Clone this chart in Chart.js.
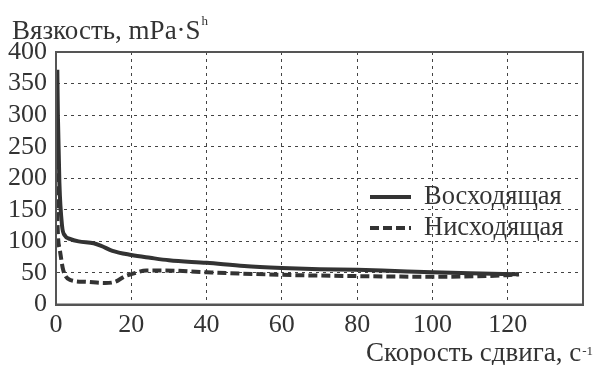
<!DOCTYPE html>
<html><head><meta charset="utf-8">
<script src="https://cdn.jsdelivr.net/npm/chart.js@4.4.1/dist/chart.umd.min.js"></script>
<style>html,body{margin:0;padding:0;background:#fff;}canvas{display:block;}</style>
</head><body>
<canvas id="c" width="595" height="365"></canvas>
<script>
// Data
const upX = [0.35, 0.5, 0.9, 1.6, 2.4, 3.7, 6, 10, 12, 15, 20, 25, 30, 40, 50, 60, 70, 80, 90, 100, 110, 123];
const upY = [372, 300, 193, 125, 109, 104, 100, 97, 93, 85, 78.5, 74, 70, 66, 61, 58, 56, 55, 53, 51, 49.5, 48];
const downX = [0.15, 0.35, 1.0, 1.9, 3.7, 7.7, 13, 15.7, 18.4, 20, 24, 28, 40, 60, 80, 100, 120, 123];
const downY = [270, 139, 87, 55, 39, 36, 34, 36, 45, 48, 54, 54, 51, 47, 45, 44, 46.5, 48];
const seriesNames = ['Восходящая', 'Нисходящая'];
const xTicks = [0, 20, 40, 60, 80, 100, 120];
const yTicks = [0, 50, 100, 150, 200, 250, 300, 350, 400];
const yTitle = ['Вязкость, mPa·S', 'h'];
const xTitle = ['Скорость сдвига, с', '-1'];

const FONT = '"Liberation Serif", "Times New Roman", serif';
const INK = '#333';

const toPts = (xs, ys) => xs.map((x, i) => ({x, y: ys[i]}));

const extras = {
  id: 'extras',
  afterDraw(chart) {
    const ctx = chart.ctx, a = chart.chartArea;
    ctx.save();
    ctx.strokeStyle = '#555'; ctx.lineWidth = 2; ctx.setLineDash([]);
    ctx.strokeRect(a.left, a.top, a.right - a.left, a.bottom - a.top);
    ctx.fillStyle = INK; ctx.textBaseline = 'alphabetic';
    ctx.font = '27px ' + FONT; ctx.textAlign = 'left';
    ctx.fillText(yTitle[0], 12, 39);
    let w = ctx.measureText(yTitle[0]).width;
    ctx.font = '13px ' + FONT;
    ctx.fillText(yTitle[1], 12 + w + 1, 25);
    ctx.font = '13px ' + FONT; ctx.textAlign = 'right';
    ctx.fillText(xTitle[1], 593, 355);
    const sw = ctx.measureText(xTitle[1]).width;
    ctx.font = '27px ' + FONT;
    ctx.fillText(xTitle[0], 593 - sw - 1, 361);
    chart.data.datasets.forEach((ds, i) => {
      const y = 197 + i * 31;
      ctx.strokeStyle = ds.borderColor; ctx.lineWidth = ds.borderWidth;
      ctx.setLineDash(ds.borderDash || []);
      ctx.beginPath(); ctx.moveTo(370, y); ctx.lineTo(411, y); ctx.stroke();
      ctx.setLineDash([]);
      ctx.fillStyle = INK; ctx.font = '26.5px ' + FONT; ctx.textAlign = 'left'; ctx.textBaseline = 'middle';
      ctx.fillText(ds.label, 424, y);
    });
    ctx.restore();
  }
};

new Chart(document.getElementById('c'), {
  type: 'line',
  data: {
    datasets: [
      {label: seriesNames[0], data: toPts(upX, upY), borderColor: INK, borderWidth: 4, pointRadius: 0, cubicInterpolationMode: 'monotone', fill: false},
      {label: seriesNames[1], data: toPts(downX, downY), borderColor: INK, borderWidth: 4, borderDash: [9, 4], pointRadius: 0, cubicInterpolationMode: 'monotone', fill: false}
    ]
  },
  options: {
    responsive: false, animation: false,
    layout: {padding: {top: 52, right: 12, left: 0, bottom: 0}},
    plugins: {legend: {display: false}, tooltip: {enabled: false}},
    scales: {
      x: {
        type: 'linear', min: 0, max: 140,
        afterBuildTicks: s => { s.ticks = xTicks.concat([140]).map(v => ({value: v})); },
        afterFit: s => { s.height = 60.5; },
        ticks: {color: INK, font: {family: FONT, size: 26}, padding: 5, maxRotation: 0, autoSkip: false,
          callback: v => xTicks.includes(v) ? String(v) : ''},
        grid: {color: '#444', lineWidth: 1, drawTicks: false},
        border: {display: true, color: '#555', width: 2, dash: [3, 4]}
      },
      y: {
        type: 'linear', min: 0, max: 400,
        afterBuildTicks: s => { s.ticks = yTicks.map(v => ({value: v})); },
        afterFit: s => { s.width = 56; },
        ticks: {color: INK, font: {family: FONT, size: 26}, padding: 9, autoSkip: false},
        grid: {color: '#444', lineWidth: 1, drawTicks: false},
        border: {display: true, color: '#555', width: 2, dash: [3, 4]}
      }
    }
  },
  plugins: [extras]
});
</script>
</body></html>
